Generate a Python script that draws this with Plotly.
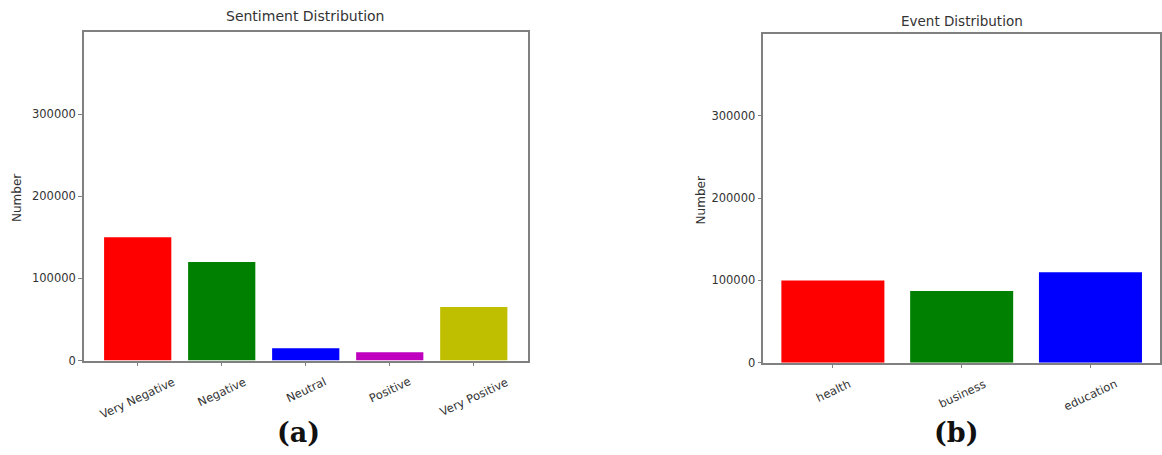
import plotly.graph_objects as go

# Sentiment panel data
sentiment_labels = ["Very Negative", "Negative", "Neutral", "Positive", "Very Positive"]
sentiment_counts = [150000, 120000, 15000, 10000, 65000]
sentiment_colors = ["#ff0000", "#008000", "#0000ff", "#bf00bf", "#bfbf00"]

# Event panel data
event_labels = ["health", "business", "education"]
event_counts = [100000, 87000, 110000]
event_colors = ["#ff0000", "#008000", "#0000ff"]

y_ticks = [0, 100000, 200000, 300000]
y_max = 400000

W, H = 1162, 455
H_EFF = 448  # pixel height used to place items in paper coordinates
FONT = "DejaVu Sans"
TXT = "#333333"
SPINE = "#808080"


def px_x(p):
    return p / W


def px_y(p):
    return (H_EFF - p) / H_EFF


fig = go.Figure()
fig.add_trace(go.Bar(x=sentiment_labels, y=sentiment_counts, width=0.8,
                     marker=dict(color=sentiment_colors, line=dict(width=0)),
                     xaxis="x", yaxis="y", showlegend=False))
fig.add_trace(go.Bar(x=event_labels, y=event_counts, width=0.8,
                     marker=dict(color=event_colors, line=dict(width=0)),
                     xaxis="x2", yaxis="y2", showlegend=False))

axis_common = dict(showline=True, mirror=True, linecolor=SPINE, linewidth=1.5,
                   showgrid=False, zeroline=False, ticks="outside", ticklen=4,
                   tickwidth=1.2, tickcolor=SPINE,
                   tickfont=dict(family=FONT, size=11.5, color=TXT))

dom_a = [px_x(84), px_x(528)]
dom_b = [px_x(764), px_x(1161)]

fig.update_layout(
    width=W, height=H,
    margin=dict(l=0, r=0, t=0, b=0),
    paper_bgcolor="white", plot_bgcolor="white",
    xaxis=dict(domain=dom_a, anchor="y", type="category",
               range=[-0.64, len(sentiment_labels) - 1 + 0.64],
               showticklabels=False, **axis_common),
    yaxis=dict(domain=[px_y(360.5), px_y(32)], anchor="x", range=[0, y_max],
               tickvals=y_ticks, tickformat="d", **axis_common),
    xaxis2=dict(domain=dom_b, anchor="y2", type="category",
                range=[-0.54, len(event_labels) - 1 + 0.54],
                showticklabels=False, **axis_common),
    yaxis2=dict(domain=[px_y(362.7), px_y(33.5)], anchor="x2", range=[0, y_max],
                tickvals=y_ticks, tickformat="d", **axis_common),
)

ann = []
# rotated category labels under each bar
for lab in sentiment_labels:
    ann.append(dict(x=lab, xref="x", y=px_y(372), yref="paper", text=lab,
                    showarrow=False, textangle=-25, xanchor="center", yanchor="top",
                    font=dict(family=FONT, size=11.5, color=TXT)))
for lab in event_labels:
    ann.append(dict(x=lab, xref="x2", y=px_y(374), yref="paper", text=lab,
                    showarrow=False, textangle=-25, xanchor="center", yanchor="top",
                    font=dict(family=FONT, size=11.5, color=TXT)))

# panel titles
ann.append(dict(x=(dom_a[0] + dom_a[1]) / 2, y=px_y(16), xref="paper", yref="paper",
                text="Sentiment Distribution", showarrow=False,
                xanchor="center", yanchor="middle",
                font=dict(family=FONT, size=14, color=TXT)))
ann.append(dict(x=(dom_b[0] + dom_b[1]) / 2, y=px_y(21), xref="paper", yref="paper",
                text="Event Distribution", showarrow=False,
                xanchor="center", yanchor="middle",
                font=dict(family=FONT, size=13.5, color=TXT)))

# y-axis titles
ann.append(dict(x=px_x(17), y=px_y(198), xref="paper", yref="paper", text="Number",
                showarrow=False, textangle=-90, xanchor="center", yanchor="middle",
                font=dict(family=FONT, size=12, color=TXT)))
ann.append(dict(x=px_x(702), y=px_y(200), xref="paper", yref="paper", text="Number",
                showarrow=False, textangle=-90, xanchor="center", yanchor="middle",
                font=dict(family=FONT, size=12, color=TXT)))

# panel letters
ann.append(dict(x=px_x(299), y=px_y(432), xref="paper", yref="paper", text="<b>(a)</b>",
                showarrow=False, xanchor="center", yanchor="middle",
                font=dict(family="DejaVu Serif", size=27, color="#111111")))
ann.append(dict(x=px_x(957), y=px_y(432), xref="paper", yref="paper", text="<b>(b)</b>",
                showarrow=False, xanchor="center", yanchor="middle",
                font=dict(family="DejaVu Serif", size=27, color="#111111")))

fig.update_layout(annotations=ann)
fig.write_html("out.html")
